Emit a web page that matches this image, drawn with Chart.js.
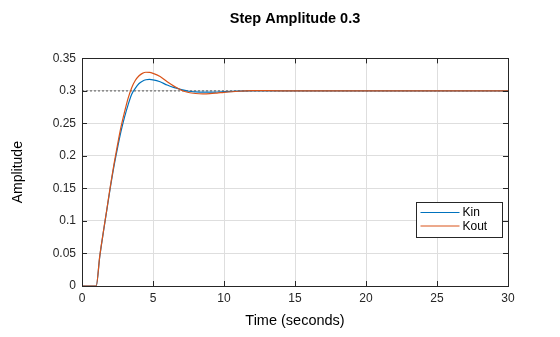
<!DOCTYPE html>
<html>
<head>
<meta charset="utf-8">
<script src="https://cdn.jsdelivr.net/npm/chart.js@4/dist/chart.umd.min.js"></script>
<style>
  html, body { margin: 0; padding: 0; background: #fff; }
  #wrap { width: 560px; height: 337px; }
</style>
</head>
<body>
<div id="wrap"><canvas id="graph"></canvas></div>
<script>
// step response samples (seconds)
const time = [0, 1, 1.25, 1.5, 1.75, 2, 2.25, 2.5, 2.75, 3, 3.25, 3.5, 3.75, 4, 4.25, 4.5, 4.75, 5, 5.5, 6, 6.5, 7, 7.5, 8, 8.5, 9, 9.5, 10, 11, 12, 13, 15, 20, 30]
const kin = [0, 0, 0.045, 0.082, 0.117, 0.152, 0.184, 0.212, 0.238, 0.26, 0.279, 0.295, 0.304, 0.311, 0.315, 0.3172, 0.3176, 0.317, 0.314, 0.309, 0.305, 0.302, 0.2995, 0.2985, 0.298, 0.298, 0.2983, 0.2988, 0.2997, 0.3001, 0.3001, 0.3, 0.3, 0.3]
const kout = [0, 0, 0.046, 0.083, 0.118, 0.154, 0.187, 0.217, 0.245, 0.268, 0.289, 0.305, 0.316, 0.323, 0.327, 0.3287, 0.3285, 0.327, 0.322, 0.314, 0.307, 0.301, 0.2975, 0.296, 0.2955, 0.2958, 0.2967, 0.2978, 0.2995, 0.3003, 0.3003, 0.3, 0.3, 0.3]
const stepLevel = 0.3
const xTicks = [0, 5, 10, 15, 20, 25, 30]
const yTicks = [0, 0.05, 0.1, 0.15, 0.2, 0.25, 0.3, 0.35]
const yTickLabels = ['0', '0.05', '0.1', '0.15', '0.2', '0.25', '0.3', '0.35']

const toPoints = (ys) => time.map((t, i) => ({ x: t, y: ys[i] }))

const FONT = "'Liberation Sans', Arial, Helvetica, sans-serif"
const BLUE = '#0072BD'
const ORANGE = '#D95319'

// axes box, inward ticks and legend like a matlab figure
const boxPlugin = {
  id: 'box',
  afterDatasetsDraw(chart) {
    const ctx = chart.ctx
    const a = chart.chartArea
    const xs = chart.scales.x
    const ys = chart.scales.y
    ctx.save()
    ctx.strokeStyle = '#262626'
    ctx.lineWidth = 1
    ctx.beginPath()
    xTicks.forEach(v => {
      const px = Math.round(xs.getPixelForValue(v)) + 0.5
      ctx.moveTo(px, a.bottom); ctx.lineTo(px, a.bottom - 5)
      ctx.moveTo(px, a.top); ctx.lineTo(px, a.top + 5)
    })
    yTicks.forEach(v => {
      const py = Math.round(ys.getPixelForValue(v)) + 0.5
      ctx.moveTo(a.left, py); ctx.lineTo(a.left + 5, py)
      ctx.moveTo(a.right, py); ctx.lineTo(a.right - 5, py)
    })
    ctx.stroke()
    ctx.strokeRect(Math.round(a.left) + 0.5, Math.round(a.top) + 0.5, Math.round(a.right - a.left), Math.round(a.bottom - a.top))

    // legend
    const lx = 416.5, ly = 202.5, lw = 86, lh = 35
    ctx.fillStyle = '#fff'
    ctx.fillRect(lx, ly, lw, lh)
    ctx.strokeStyle = '#262626'
    ctx.strokeRect(lx, ly, lw, lh)
    const items = [['Kin', BLUE], ['Kout', ORANGE]]
    ctx.font = '12px ' + FONT
    ctx.textBaseline = 'middle'
    items.forEach((it, i) => {
      const y = ly + 10 + i * 13.5
      ctx.strokeStyle = it[1]
      ctx.beginPath()
      ctx.moveTo(lx + 4, y); ctx.lineTo(lx + 43, y)
      ctx.stroke()
      ctx.fillStyle = '#000'
      ctx.fillText(it[0], lx + 46, y + 0.5)
    })
    ctx.restore()
  }
}

const graph = document.getElementById('graph').getContext('2d')
let myChart = new Chart(graph, {
  type: 'line',
  data: {
    datasets: [
      {
        label: 'Kout',
        data: toPoints(kout),
        borderColor: ORANGE,
        borderWidth: 1.2,
        pointRadius: 0,
        cubicInterpolationMode: 'monotone'
      },
      {
        label: 'Kin',
        data: toPoints(kin),
        borderColor: BLUE,
        borderWidth: 1.2,
        pointRadius: 0,
        cubicInterpolationMode: 'monotone'
      },
      {
        label: 'step',
        data: [{ x: 0, y: stepLevel }, { x: 30, y: stepLevel }],
        borderColor: '#555',
        borderWidth: 1,
        borderDash: [2, 2],
        pointRadius: 0
      }
    ]
  },
  options: {
    responsive: true,
    maintainAspectRatio: false,
    animation: false,
    layout: { padding: { left: 0, right: 52, top: 0, bottom: 0 } },
    plugins: {
      legend: { display: false },
      tooltip: { enabled: false },
      title: {
        display: true,
        text: 'Step Amplitude 0.3',
        fullSize: false,
        color: '#000',
        font: { family: FONT, size: 14.5, weight: 'bold', lineHeight: 1.2 },
        padding: { top: 10, bottom: 31 }
      }
    },
    scales: {
      x: {
        type: 'linear',
        min: 0,
        max: 30,
        afterBuildTicks: (s) => { s.ticks = xTicks.map(v => ({ value: v })) },
        afterFit: (s) => { s.height = 51 },
        grid: { color: '#dedede', drawTicks: false },
        border: { display: false },
        ticks: { color: '#262626', padding: 5, font: { family: FONT, size: 12 } },
        title: {
          display: true,
          text: 'Time (seconds)',
          color: '#000',
          font: { family: FONT, size: 14.5 },
          padding: { top: 0, bottom: 7 }
        }
      },
      y: {
        min: 0,
        max: 0.35,
        afterBuildTicks: (s) => { s.ticks = yTicks.map(v => ({ value: v })) },
        afterFit: (s) => { s.width = 82 },
        grid: { color: '#dedede', drawTicks: false },
        border: { display: false },
        ticks: {
          color: '#262626',
          padding: 6,
          font: { family: FONT, size: 12 },
          callback: (v, i) => yTickLabels[i]
        },
        title: {
          display: true,
          text: 'Amplitude',
          color: '#000',
          font: { family: FONT, size: 14 },
          padding: { top: 10, bottom: 0 }
        }
      }
    }
  },
  plugins: [boxPlugin]
})
</script>
</body>
</html>
